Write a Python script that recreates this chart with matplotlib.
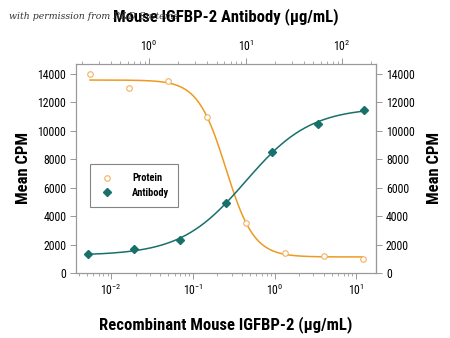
import numpy as np
import matplotlib
matplotlib.use("Agg")
import matplotlib.pyplot as plt
from matplotlib import font_manager

# values
protein_conc = [0.00549, 0.01646, 0.0494, 0.148, 0.444, 1.333, 4.0, 12.0]  # ug/mL, bottom axis
protein_cpm = [14000, 13000, 13500, 11000, 3550, 1420, 1200, 1000]
antibody_conc = [0.23, 0.69, 2.07, 6.21, 18.6, 55.9, 168.0]  # ug/mL, top axis
antibody_cpm = [1320, 1680, 2300, 4920, 8480, 10480, 11490]
y_ticks = [0, 2000, 4000, 6000, 8000, 10000, 12000, 14000]

ORANGE = "#EE9A22"
TEAL = "#17706A"

names = {f.name for f in font_manager.fontManager.ttflist}
FONT = "DejaVu Sans"
for cand in ["Liberation Sans Narrow", "Roboto Condensed", "Open Sans Condensed"]:
    if cand in names:
        FONT = cand
        break
plt.rcParams["font.family"] = [FONT, "DejaVu Sans"]
plt.rcParams["font.stretch"] = "condensed"


def fit_4pl(x, y):
    """Grid search over EC50 / slope, linear least squares for the plateaus."""
    lx = np.log10(np.asarray(x, float))
    y = np.asarray(y, float)
    best = None
    for c in np.linspace(lx.min(), lx.max(), 300):
        for h in np.linspace(0.3, 5.0, 200):
            s = 1.0 / (1.0 + 10 ** (h * (lx - c)))
            A = np.column_stack([np.ones_like(s), s])
            coef, *_ = np.linalg.lstsq(A, y, rcond=None)
            err = np.sum((A @ coef - y) ** 2)
            if best is None or err < best[0]:
                best = (err, c, h, coef)
    _, c, h, coef = best

    def f(xx):
        s = 1.0 / (1.0 + 10 ** (h * (np.log10(xx) - c)))
        return coef[0] + coef[1] * s
    return f


fig = plt.figure(figsize=(4.5, 3.38), dpi=100)
ax = fig.add_axes([0.169, 0.192, 0.667, 0.619])

p_fit = fit_4pl(protein_conc, protein_cpm)
xs = np.logspace(np.log10(protein_conc[0]), np.log10(protein_conc[-1]), 300)
ax.plot(xs, p_fit(xs), color=ORANGE, lw=1.1, zorder=2)
h_prot, = ax.plot(protein_conc, protein_cpm, "o", ms=4, mfc="white", mec="#F2B060",
                  mew=0.8, zorder=3, label="Protein")
ax.set_xscale("log")
ax.set_xlim(0.0037, 17.6)
ax.set_ylim(0, 14700)
ax.set_yticks(y_ticks)

ax2 = ax.twiny()
a_fit = fit_4pl(antibody_conc, antibody_cpm)
xs2 = np.logspace(np.log10(antibody_conc[0]), np.log10(antibody_conc[-1]), 300)
ax2.plot(xs2, a_fit(xs2), color=TEAL, lw=1.1, zorder=2)
h_ab, = ax2.plot(antibody_conc, antibody_cpm, "D", ms=4, color=TEAL, zorder=3, label="Antibody")
ax2.set_xscale("log")
ax2.set_xlim(0.175, 225)

sec = ax.secondary_yaxis("right")
sec.set_yticks(y_ticks)

for a in (ax, ax2, sec):
    for sp in a.spines.values():
        sp.set_color("#999999")
        sp.set_linewidth(0.8)
    a.tick_params(which="major", length=4, width=0.6, color="#888888", labelsize=8.5, pad=3)
    a.tick_params(which="minor", length=2, width=0.5, color="#888888")

lab = dict(fontsize=12, fontweight="bold", fontstretch="condensed")
ax.set_xlabel("Recombinant Mouse IGFBP-2 (\u03bcg/mL)", labelpad=13, **lab)
ax.set_ylabel("Mean CPM", labelpad=5, **lab)
sec.set_ylabel("Mean CPM", labelpad=9, **lab)
ax2.set_xlabel("Mouse IGFBP-2 Antibody (\u03bcg/mL)", labelpad=13, **lab)

leg = ax.legend(handles=[h_prot, h_ab], loc="lower left", bbox_to_anchor=(0.03, 0.29),
                frameon=True, fancybox=False, handletextpad=1.6, handlelength=1.5,
                borderpad=0.9, labelspacing=0.45,
                prop={"weight": "bold", "size": 7.5, "stretch": "condensed"})
leg.get_frame().set_edgecolor("#666666")
leg.get_frame().set_linewidth(0.8)

fig.text(0.02, 0.945, "with permission from R&D Systems", fontsize=7.5, style="italic",
         family="DejaVu Serif", color="#333333", zorder=0)

fig.savefig("out.png", dpi=100)
